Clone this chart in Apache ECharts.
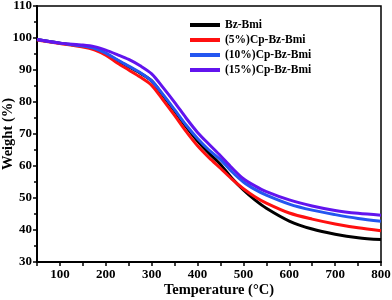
<!DOCTYPE html>
<html>
<head>
<meta charset="utf-8">
<script src="https://cdn.jsdelivr.net/npm/echarts@6/dist/echarts.min.js"></script>
<style>html,body{margin:0;padding:0;background:#fff}#c{width:392px;height:300px}</style>
</head>
<body>
<div id="c"></div>
<script>
var temps = [50, 100, 150, 175, 200, 225, 250, 275, 300, 325, 350, 375, 400, 425, 450, 475, 500, 525, 550, 600, 650, 700, 750, 800];
var seriesNames = ['Bz-Bmi', '(5%)Cp-Bz-Bmi', '(10%)Cp-Bz-Bmi', '(15%)Cp-Bz-Bmi'];
var bzBmi = [99.5, 98.4, 97.5, 96.8, 95.1, 93.0, 91.0, 89.0, 86.6, 82.0, 77.2, 72.3, 67.8, 64.0, 60.5, 56.2, 52.5, 49.4, 46.8, 42.8, 40.3, 38.7, 37.6, 37.0];
var cp5   = [99.4, 98.3, 97.2, 96.3, 94.6, 92.2, 90.0, 87.8, 85.2, 80.6, 75.8, 70.8, 66.3, 62.6, 59.3, 55.9, 52.9, 50.4, 48.4, 45.3, 43.4, 41.9, 40.7, 39.8];
var cp10  = [99.5, 98.4, 97.5, 96.8, 95.3, 93.2, 91.2, 89.2, 86.6, 82.3, 77.6, 72.8, 68.6, 65.0, 62.0, 58.2, 55.0, 52.7, 50.9, 48.1, 46.2, 44.8, 43.6, 42.7];
var cp15  = [99.5, 98.4, 97.8, 97.3, 96.2, 94.8, 93.3, 91.3, 88.8, 84.5, 79.9, 75.0, 70.5, 66.8, 63.2, 59.4, 56.0, 53.8, 52.0, 49.4, 47.5, 46.1, 45.2, 44.6];
var colors = ['#000000', '#ff1010', '#2456f0', '#6214ee'];
var xTickLabels = [100, 200, 300, 400, 500, 600, 700, 800];

function pairs(vals) { return temps.map(function (t, i) { return [t, vals[i]]; }); }
var allVals = [bzBmi, cp5, cp10, cp15];

var font = 'Liberation Serif';
var chart = echarts.init(document.getElementById('c'));
chart.setOption({
  animation: false,
  backgroundColor: '#fff',
  grid: { left: 37, right: 11, top: 6, bottom: 38, show: true, borderColor: '#000', borderWidth: 1.5, containLabel: false, outerBoundsMode: 'none' },
  legend: {
    orient: 'vertical', left: 185, top: 14,
    itemWidth: 30, itemHeight: 4, itemGap: 3, icon: 'rect',
    textStyle: { fontFamily: font, fontWeight: 'bold', fontSize: 11.5, color: '#000' },
    data: seriesNames
  },
  xAxis: {
    type: 'value', min: 50, max: 800, interval: 50,
    name: 'Temperature (°C)', nameLocation: 'middle', nameGap: 21, nameMoveOverlap: false,
    nameTextStyle: { fontFamily: font, fontWeight: 'bold', fontSize: 14.5, color: '#000', padding: [0, 0, 0, 20] },
    axisLine: { lineStyle: { color: '#000', width: 2 } },
    axisTick: { length: 4, lineStyle: { color: '#000', width: 1.5 } },
    axisLabel: {
      fontFamily: font, fontWeight: 'bold', fontSize: 13, color: '#000', margin: 6,
      formatter: function (v) { return xTickLabels.indexOf(v) >= 0 ? String(v) : ''; }
    },
    splitLine: { show: false }
  },
  yAxis: {
    type: 'value', min: 30, max: 110, interval: 10,
    name: 'Weight (%)', nameLocation: 'middle', nameGap: 21, nameMoveOverlap: false,
    nameTextStyle: { fontFamily: font, fontWeight: 'bold', fontSize: 14.5, color: '#000' },
    axisLine: { show: true, lineStyle: { color: '#000', width: 2 } },
    axisTick: { show: true, length: 4, lineStyle: { color: '#000', width: 1.5 } },
    minorTick: { show: true, splitNumber: 2, length: 3, lineStyle: { color: '#000', width: 1.5 } },
    axisLabel: { fontFamily: font, fontWeight: 'bold', fontSize: 13, color: '#000', margin: 5 },
    splitLine: { show: false }
  },
  series: seriesNames.map(function (n, i) {
    return {
      name: n, type: 'line', data: pairs(allVals[i]), smooth: 0.3, symbol: 'none',
      color: colors[i], lineStyle: { width: 3, color: colors[i] }
    };
  })
});
</script>
</body>
</html>
